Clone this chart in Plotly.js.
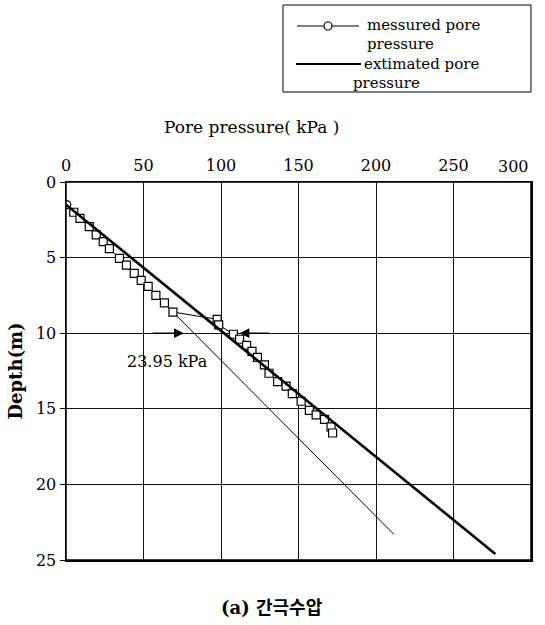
<!DOCTYPE html>
<html>
<head>
<meta charset="utf-8">
<script src="https://cdn.plot.ly/plotly-3.0.1.min.js"></script>
<style>html,body{margin:0;padding:0;background:#fff;}#chart{width:545px;height:625px;}</style>
</head>
<body>
<div id="chart"></div>
<script>
// measured pore pressure (kPa) vs depth (m)
var measDepth = [1.5,2,2.4,2.95,3.5,3.95,4.4,5.05,5.5,6.04,6.5,6.9,7.5,8.0,8.6,9.08,9.45,10.07,10.4,10.8,11.2,11.6,12.1,12.65,13.2,13.5,14.0,14.5,15.1,15.4,15.7,16.2,16.6];
var measPressure = [0.5,5,9,15,19.5,24,28,34.5,39,44,48.5,53,58,63.5,69,97.5,98.5,108,112,116.5,120,123.5,128,131,136.5,142,146,151.7,157,161.4,166.8,171,172];
// estimated pore pressure line
var estDepth = [1.5, 24.6];
var estPressure = [0, 277];
// shifted hydrostatic line
var shiftDepth = [8.6, 23.3];
var shiftPressure = [69, 211.5];
// labels
var xTickVals = [0,50,100,150,200,250,300];
var xTickText = ['0','50','100','150','200','250',''];
var yTickVals = [0,5,10,15,20,25];
var legendNames = ['messured pore', 'pressure', 'extimated pore', 'pressure'];
var diffLabel = "23.95 kPa";
var arrowLeft = {tip: 76, tail: 55, depth: 10};
var arrowRight = {tip: 112, tail: 132, depth: 10};

var FONT = "DejaVu Serif, Liberation Serif, serif";
var symbols = measDepth.map(function(d,i){ return i===0 ? 'circle' : 'square'; });

// plot area geometry (pixels) for paper-coordinate helpers
var W = 545, H = 625, ML = 66, MR = 14, MT = 182, MB = 65;
var PW = W - ML - MR, PH = H - MT - MB;
function px(x){ return (x - ML) / PW; }
function py(y){ return (H - MB - y) / PH; }

var traces = [
  {x: shiftPressure, y: shiftDepth, mode: 'lines', line: {color: '#000', width: 1}, showlegend: false, hoverinfo: 'skip'},
  {x: measPressure, y: measDepth, mode: 'lines+markers', name: 'messured pore pressure', showlegend: false,
   line: {color: '#000', width: 1},
   marker: {symbol: symbols, size: 8, color: '#fff', line: {color: '#000', width: 1.2}}},
  {x: estPressure, y: estDepth, mode: 'lines', name: 'extimated pore pressure', showlegend: false,
   line: {color: '#000', width: 2.6}}
];

var shapes = [
  // plot frame
  {type: 'rect', xref: 'paper', yref: 'paper', x0: 0, x1: 1, y0: 0, y1: 1,
   line: {color: '#000', width: 1.5}, layer: 'above'},
  // legend box
  {type: 'rect', xref: 'paper', yref: 'paper', x0: px(283), x1: px(531), y0: py(5), y1: py(92),
   line: {color: '#000', width: 1}, fillcolor: '#fff', layer: 'above'},
  // legend key: measured
  {type: 'line', xref: 'paper', yref: 'paper', x0: px(297), x1: px(359), y0: py(26), y1: py(26),
   line: {color: '#000', width: 1}, layer: 'above'},
  {type: 'circle', xref: 'paper', yref: 'paper', x0: px(324), x1: px(332), y0: py(22), y1: py(30),
   line: {color: '#000', width: 1.2}, fillcolor: '#fff', layer: 'above'},
  // legend key: estimated
  {type: 'line', xref: 'paper', yref: 'paper', x0: px(296), x1: px(361), y0: py(64), y1: py(64),
   line: {color: '#000', width: 2.2}, layer: 'above'}
];

function legendText(txt, x, y){
  return {xref: 'paper', yref: 'paper', x: px(x), y: py(y), xanchor: 'left', yanchor: 'middle', showarrow: false,
          borderpad: 0, text: txt, font: {family: FONT, size: 15}};
}

var annotations = [
  {xref: 'paper', yref: 'paper', x: px(251), y: py(127), xanchor: 'center', yanchor: 'middle', showarrow: false,
   text: 'Pore pressure( kPa )', font: {family: FONT, size: 17}},
  {xref: 'x', yref: 'paper', x: 300, xshift: -18, y: py(166), xanchor: 'center', yanchor: 'middle', showarrow: false,
   text: '300', font: {family: FONT, size: 16}},
  {xref: 'paper', yref: 'paper', x: px(272), y: py(607), xanchor: 'center', yanchor: 'middle', showarrow: false,
   text: '<b>(a) 간극수압</b>', font: {family: "DejaVu Serif, Noto Sans CJK KR, serif", size: 18}},
  {xref: 'x', yref: 'y', x: 65.6, y: 11.9, xanchor: 'center', yanchor: 'middle', showarrow: false,
   text: diffLabel, font: {family: FONT, size: 16}},
  {xref: 'x', yref: 'y', axref: 'x', ayref: 'y', x: arrowLeft.tip, y: arrowLeft.depth, ax: arrowLeft.tail, ay: arrowLeft.depth,
   showarrow: true, arrowhead: 2, arrowsize: 1.3, arrowwidth: 1.5, arrowcolor: '#000', text: ''},
  {xref: 'x', yref: 'y', axref: 'x', ayref: 'y', x: arrowRight.tip, y: arrowRight.depth, ax: arrowRight.tail, ay: arrowRight.depth,
   showarrow: true, arrowhead: 2, arrowsize: 1.3, arrowwidth: 1.5, arrowcolor: '#000', text: ''},
  legendText(legendNames[0], 366, 25),
  legendText(legendNames[1], 366, 44),
  legendText(legendNames[2], 363, 64),
  legendText(legendNames[3], 352, 83)
];

var layout = {
  width: W, height: H,
  margin: {l: ML, r: MR, t: MT, b: MB},
  paper_bgcolor: '#fff', plot_bgcolor: '#fff',
  font: {family: FONT, color: '#000', size: 16},
  showlegend: false,
  xaxis: {side: 'top', range: [0, 300], tickvals: xTickVals, ticktext: xTickText, showgrid: true, gridcolor: '#111', gridwidth: 1,
          zeroline: false, showline: true, mirror: true, linecolor: '#000', linewidth: 1.5,
          ticks: '', ticklabelstandoff: 3, tickfont: {family: FONT, size: 16}},
  yaxis: {range: [25, 0], tickvals: yTickVals, showgrid: true, gridcolor: '#111', gridwidth: 1,
          zeroline: false, showline: true, mirror: true, linecolor: '#000', linewidth: 1.5,
          ticks: 'outside', ticklen: 5, tickcolor: '#000', tickfont: {family: FONT, size: 16},
          title: {text: '<b>Depth(m)</b>', font: {family: FONT, size: 18}, standoff: 8}},
  shapes: shapes,
  annotations: annotations
};

Plotly.newPlot('chart', traces, layout, {staticPlot: true});
</script>
</body>
</html>
